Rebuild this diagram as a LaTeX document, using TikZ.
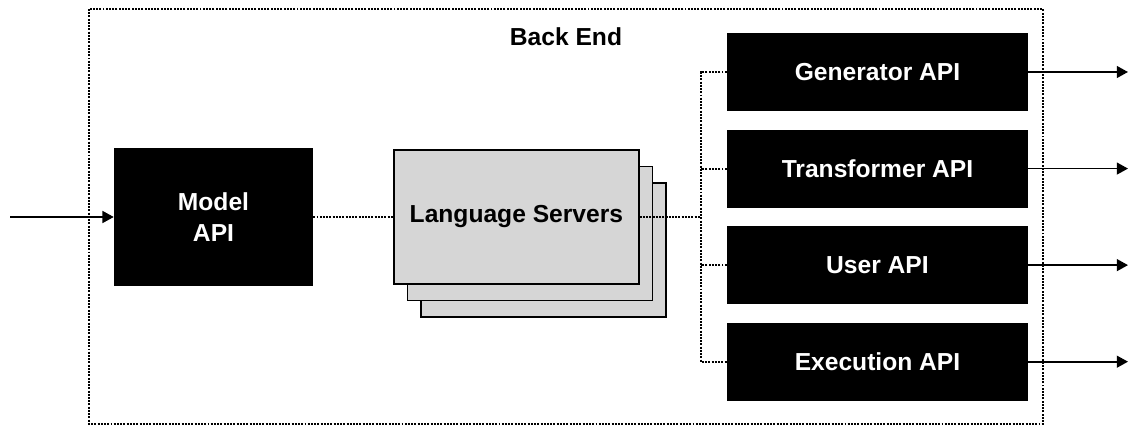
\documentclass[tikz,border=0pt]{standalone}
\usepackage{fontspec}
\setmainfont{Liberation Sans}
\usetikzlibrary{positioning,calc}
\usetikzlibrary{arrows.meta}

\definecolor{srvgray}{HTML}{D6D6D6}
\tikzset{
	blackbox/.style={rectangle, fill=black, text=white, font=\fontsize{17.5}{22}\selectfont\bfseries, align=center, inner sep=0pt},
	apibox/.style={blackbox, minimum width=7.525cm, minimum height=1.95cm},
	server/.style={rectangle, draw, line width=1.1pt, fill=srvgray, minimum width=6.125cm, minimum height=3.35cm, inner sep=0pt, font=\fontsize{17.5}{22}\selectfont\bfseries},
	link/.style={line width=1.5pt, dash pattern=on 1.4pt off 0.9pt},
	feed/.style={line width=1.2pt, -{Triangle[length=8pt,width=8.5pt]}},
}

\begin{document}
\begin{tikzpicture}
	\useasboundingbox (0,0) rectangle (28.25,-10.625);
	% back end frame
	\draw[link] (2.225,-0.225) rectangle (26.075,-10.6);
	\node[font=\fontsize{17.5}{22}\selectfont\bfseries] (backend) at (14.15,-0.93) {Back End};

	\node[blackbox, minimum width=4.975cm, minimum height=3.45cm] (model) at (5.3375,-5.425) {Model\\API};

	% stack of language servers
	\node[server] (ls3) at (13.59,-6.25) {};
	\node[server] (ls2) at (13.25,-5.84) {};
	\node[server] (ls) at (12.91,-5.425) {Language Servers};

	\node[apibox] (gen) at (21.9375,-1.8) {Generator API};
	\node[apibox, below=0.45cm of gen] (tra) {Transformer API};
	\node[apibox, below=0.45cm of tra] (usr) {User API};
	\node[apibox, below=0.45cm of usr] (exe) {Execution API};

	\coordinate (in) at (0.25,-5.425);
	\coordinate (bus) at ($(gen.west)+(-0.65,0)$);
	\coordinate (outend) at (28.2,0);

	\draw[feed] (in) -- (model.west);
	\draw[link] (model.east) -- (ls.west);
	\draw[link] (ls.east) -- (ls.east -| bus);
	\draw[link] (gen.west) -- (bus) |- (exe.west);
	\foreach \n in {tra,usr}
		\draw[link] (\n.west) -- (\n.west -| bus);
	\foreach \n in {gen,tra,usr,exe}
		\draw[feed] (\n.east) -- (\n.east -| outend);
\end{tikzpicture}
\end{document}
